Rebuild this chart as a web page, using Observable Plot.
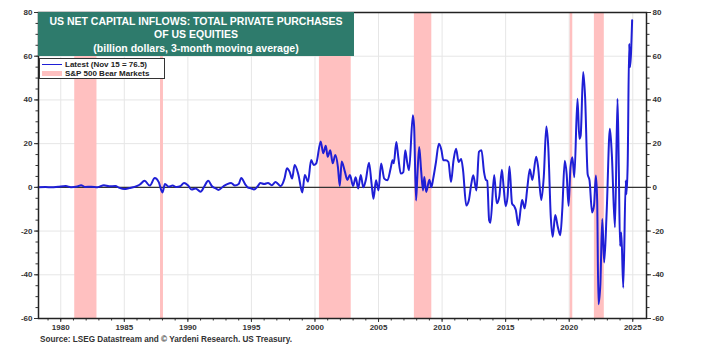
<!DOCTYPE html>
<html>
<head>
<meta charset="utf-8">
<script src="https://cdn.jsdelivr.net/npm/d3@7"></script>
<script src="https://cdn.jsdelivr.net/npm/@observablehq/plot@0.6"></script>
<style>
  html, body { margin: 0; padding: 0; background: #fff; }
  #wrap { position: relative; width: 705px; height: 362px; font-family: "Liberation Sans", Arial, sans-serif; }
  #title { position: absolute; left: 38px; top: 12px; width: 316px; height: 44px; background: #2e7b6c; color: #fff; font-weight: bold; font-size: 10.5px; }
  #title div { position: absolute; left: 0; width: 100%; text-align: center; white-space: nowrap; }
  #legend { position: absolute; left: 39px; top: 58px; width: 124px; height: 19px; background: #fff; border: 1.5px solid #333; font-weight: bold; font-size: 8px; color: #222; }
  #legend .row { position: absolute; left: 0; white-space: nowrap; line-height: 9px; }
  #source { position: absolute; left: 40px; top: 335px; font-weight: bold; font-size: 8.2px; color: #333; white-space: nowrap; }
</style>
</head>
<body>
<div id="wrap">
  <div id="chart"></div>
  <div id="title">
    <div style="top:3px">US NET CAPITAL INFLOWS: TOTAL PRIVATE PURCHASES</div>
    <div style="top:16px">OF US EQUITIES</div>
    <div style="top:30px">(billion dollars, 3-month moving average)</div>
  </div>
  <div id="legend">
    <div class="row" style="top:1px;"><span style="display:inline-block;width:20px;height:0;border-top:1.8px solid #1f1fd6;vertical-align:middle;margin:0 3px 0 2px;"></span>Latest (Nov 15 = 76.5)</div>
    <div class="row" style="top:10px;"><span style="display:inline-block;width:20px;height:5px;background:#ffc0c0;vertical-align:middle;margin:0 3px 0 2px;"></span>S&amp;P 500 Bear Markets</div>
  </div>
  <div id="source">Source: LSEG Datastream and © Yardeni Research. US Treasury.</div>
</div>
<script>
// Dates (decimal years) and values (billion dollars, 3-month moving average)
const dates = [
  1978.25,1978.8,1979.3,1979.8,1980.4,1980.8,1981.3,1981.6,1981.9,1982.4,1982.9,1983.4,1983.8,1984.3,1984.6,1985.0,1985.4,1985.8,1986.2,1986.6,
  1987.0,1987.4,1987.7,1988.0,1988.2,1988.5,1988.8,1989.1,1989.4,1989.7,1990.0,1990.3,1990.6,1991.0,1991.3,1991.6,1991.9,1992.2,1992.4,1992.8,
  1993.1,1993.4,1993.7,1994.0,1994.2,1994.5,1994.7,1995.0,1995.2,1995.5,1995.7,1996.0,1996.3,1996.6,1996.9,1997.1,1997.3,1997.6,1997.8,1998.0,
  1998.2,1998.4,1998.7,1999.0,1999.2,1999.45,1999.7,1999.9,2000.1,2000.45,2000.65,2000.85,2001.0,2001.2,2001.4,2001.6,2001.8,2001.95,2002.1,2002.35,
  2002.55,2002.75,2003.0,2003.2,2003.4,2003.6,2003.8,2004.0,2004.25,2004.45,2004.6,2004.8,2005.0,2005.2,2005.45,2005.7,2005.95,2006.1,2006.2,2006.4,
  2006.55,2006.75,2006.95,2007.1,2007.25,2007.4,2007.7,2007.8,2007.95,2008.05,2008.2,2008.35,2008.5,2008.6,2008.75,2009.0,2009.15,2009.3,2009.5,2009.75,
  2009.95,2010.1,2010.3,2010.5,2010.7,2010.9,2011.1,2011.3,2011.5,2011.65,2011.9,2012.1,2012.3,2012.45,2012.7,2012.9,2013.1,2013.3,2013.45,2013.55,
  2013.7,2013.8,2014.1,2014.3,2014.5,2014.7,2014.85,2015.0,2015.15,2015.3,2015.5,2015.7,2015.8,2016.0,2016.2,2016.3,2016.5,2016.7,2016.9,2017.1,
  2017.4,2017.55,2017.8,2018.0,2018.2,2018.35,2018.55,2018.7,2018.9,2019.1,2019.3,2019.45,2019.65,2019.8,2019.95,2020.1,2020.25,2020.4,2020.65,2020.8,
  2020.9,2021.1,2021.25,2021.45,2021.6,2021.8,2021.95,2022.1,2022.2,2022.3,2022.45,2022.6,2022.75,2022.95,2023.2,2023.35,2023.6,2023.8,2023.9,2024.0,
  2024.1,2024.25,2024.45,2024.5,2024.6,2024.72,2024.78,2024.95
];
const values = [
  0,0.2,0,0.3,0.6,0.1,0.4,1.0,0.2,0.3,0.1,1.0,0.5,0.6,-0.2,-0.8,-0.3,0.2,1.2,3.0,
  0.8,4.3,2.5,-2.3,1.5,0.3,0.8,0.2,0.5,2.0,1.0,-1.0,-0.5,-2.0,0.5,3.0,0.5,-0.5,-1.2,0.5,
  1.5,2.0,0.8,1.5,4.3,1.5,0,-0.5,-1.0,0.5,2.0,1.5,2.0,1.0,2.5,1.5,0.6,4.0,8.7,7.2,
  4.0,10.2,5.7,-2.4,5.7,2.6,12.5,10.2,11.0,21.0,15.6,19.0,14.0,17.0,11.0,14.8,9.5,0.6,11.8,7.2,
  3.4,5.7,0.6,4.6,-0.5,5.7,0,3.4,11.3,1.8,-5.2,3.2,-1.4,10.9,4.0,3.2,8.6,12.4,11.0,20.8,
  14.0,6.3,7.0,17.0,11.6,7.8,33.0,27.7,-6.0,4.7,18.5,7.8,-1.4,4.7,-2.1,3.5,0,4.0,10.9,20.0,
  17.0,12.4,12.4,11.6,2.4,12.4,17.7,11.6,13.0,7.8,-8.3,-6.0,1.7,5.5,-1.4,16.2,17.0,7.0,3.4,3.0,
  -15.0,-16.2,5.7,-7.3,-4.3,8.0,-0.5,-8.6,-4.3,9.5,-7.3,-8.9,-10.4,-17.3,-8.9,-5.8,-9.6,-0.5,8.3,3.4,
  14.0,9.5,-5.8,4.9,27.8,18.7,-13.5,-22.6,-12.7,-18.0,-21.9,-10.7,12.2,6.0,-8.4,9.2,13.8,4.6,40.5,22.2,
  23.7,52.8,41.3,6.1,3.1,-11.5,-8.4,5.4,-6.1,-53.5,-44.3,-14.5,-34.4,-10.7,26.8,15.3,-18.3,40.5,9.2,-26.8,
  -20.6,-45.9,3.1,-3.1,10.7,65.7,55.0,76.5
];
// S&P 500 bear markets (decimal years)
const bearStart = [1981.1, 1987.85, 2000.35, 2007.82, 2020.08, 2021.98];
const bearEnd   = [1982.85, 1988.08, 2002.85, 2009.19, 2020.28, 2022.76];
// Tick labels
const xTicks = [1980, 1985, 1990, 1995, 2000, 2005, 2010, 2015, 2020, 2025];
const yTicks = [-60, -40, -20, 0, 20, 40, 60, 80];
const xMinor = d3.range(1979, 2026);
const yMinor = d3.range(-60, 81, 5);

const series = dates.map((d, i) => ({date: d, value: values[i]}));
const bears = bearStart.map((s, i) => ({start: s, end: bearEnd[i]}));

const chart = Plot.plot({
  width: 705,
  height: 362,
  marginLeft: 38,
  marginRight: 59,
  marginTop: 12,
  marginBottom: 44,
  x: {domain: [1978.25, 2026.08], label: null},
  y: {domain: [-60, 80], label: null},
  style: {fontFamily: "'Liberation Sans', Arial, sans-serif", fontSize: "8px", fontWeight: "bold", color: "#333", background: "transparent"},
  marks: [
    Plot.gridY(yTicks, {stroke: "#e6e6e6", strokeOpacity: 1}),
    Plot.gridX(xTicks, {stroke: "#e6e6e6", strokeOpacity: 1}),
    Plot.rect(bears, {x1: "start", x2: "end", fill: "#ffc0c0"}),
    Plot.ruleY([0], {stroke: "#333", strokeWidth: 1.2}),
    Plot.line(series, {x: "date", y: "value", stroke: "#1f1fd6", strokeWidth: 2, curve: "monotone-x"}),
    Plot.axisX(xMinor, {text: null, label: null, tickSize: 2.5, stroke: "#333"}),
    Plot.axisX(xTicks, {label: null, tickFormat: d => String(d), tickSize: 4, tickPadding: 2, stroke: "#333"}),
    Plot.axisY(yMinor, {anchor: "left", label: null, text: null, tickSize: 2.5, stroke: "#333"}),
    Plot.axisY(yMinor, {anchor: "right", label: null, text: null, tickSize: 2.5, stroke: "#333"}),
    Plot.axisY(yTicks, {anchor: "left", label: null, tickFormat: d => String(d), tickSize: 4, tickPadding: 2, stroke: "#333"}),
    Plot.axisY(yTicks, {anchor: "right", label: null, tickFormat: d => String(d), tickSize: 4, tickPadding: 2, stroke: "#333"}),
    Plot.frame({stroke: "#222", strokeWidth: 1.5})
  ]
});
document.getElementById("chart").appendChild(chart);
</script>
</body>
</html>
